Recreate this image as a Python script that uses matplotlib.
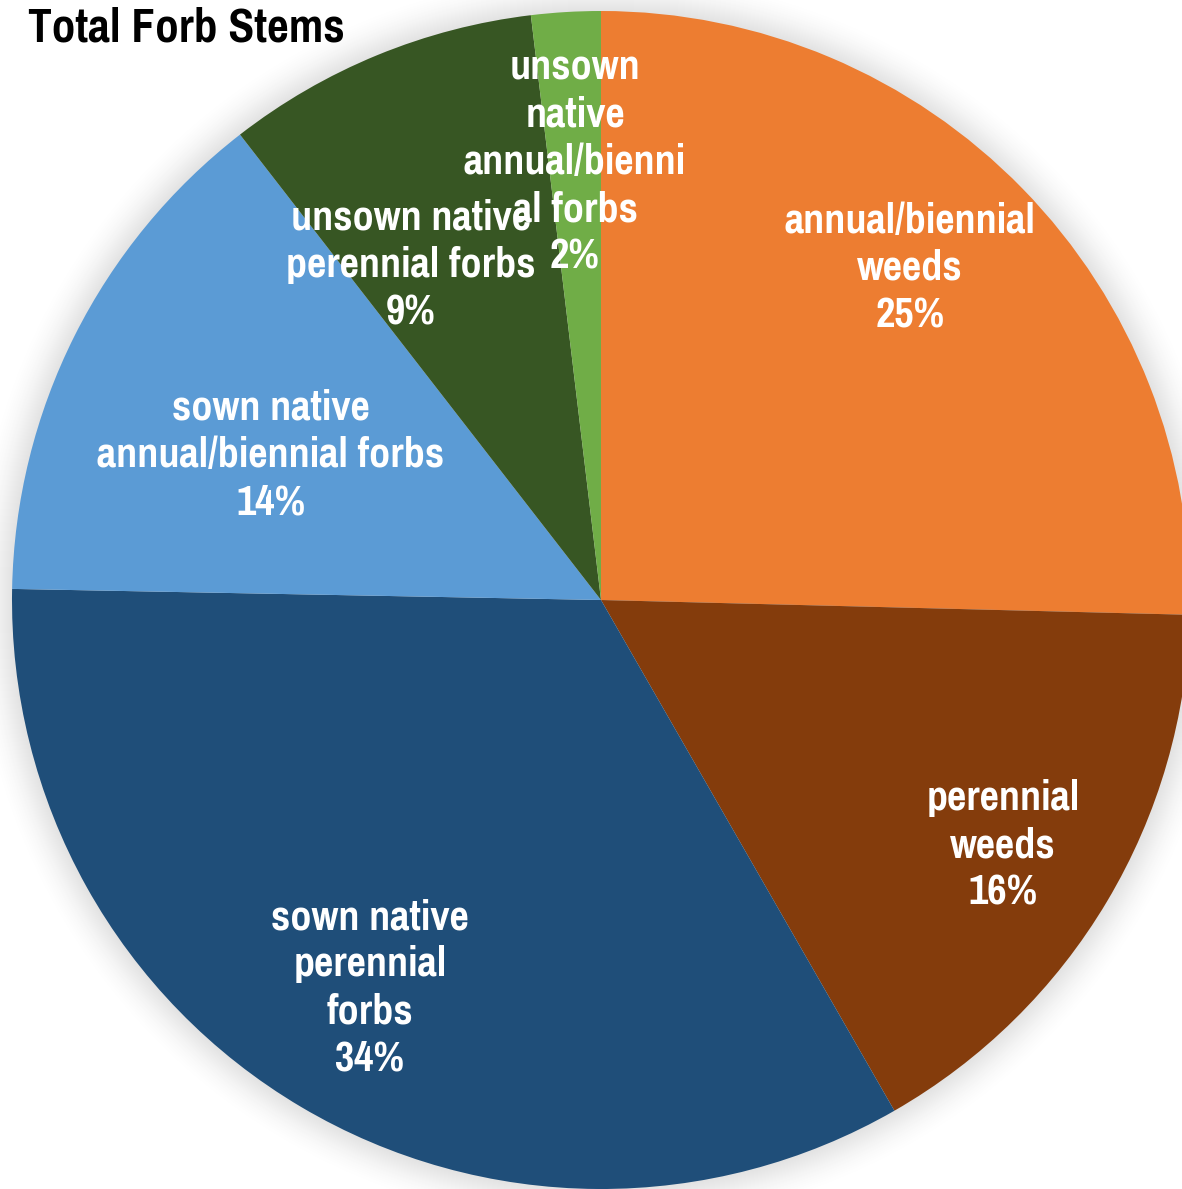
import matplotlib
matplotlib.use("Agg")
import matplotlib.pyplot as plt
from matplotlib.patches import Circle
import numpy as np

# forb stem composition, percent of total stems
groups = ["annual/biennial\nweeds",
          "perennial\nweeds",
          "sown native\nperennial\nforbs",
          "sown native\nannual/biennial forbs",
          "unsown native\nperennial forbs",
          "unsown\nnative\nannual/bienni\nal forbs"]
shares = [25.4, 16.3, 33.6, 14.2, 8.6, 1.9]
colors = ["#ED7D31", "#843C0C", "#1F4E79", "#5B9BD5", "#375623", "#70AD47"]

# label anchor points (pixels, from top-left)
label_xy = [(910, 268), (1003, 845), (370, 988), (271, 455), (411, 265), (575, 162)]

W, H = 1182, 1189
cx, cy, R = 601, H - 600, 589

font = ["Pragati Narrow", "DejaVu Sans"]

fig = plt.figure(figsize=(W / 100, H / 100), dpi=100)
ax = fig.add_axes([0, 0, 1, 1])

# soft grey glow behind the pie
glow = 40
for d in np.arange(glow, 0, -1.0):
    g = 1 - 0.115 * (1 - d / glow) ** 1.6
    ax.add_patch(Circle((cx, cy), R + d, color=(g, g, g), lw=0, zorder=0))

ax.pie(shares, colors=colors, startangle=90, counterclock=False,
       center=(cx, cy), radius=R, wedgeprops=dict(linewidth=0))

for name, v, (x, y) in zip(groups, shares, label_xy):
    ax.text(x, H - y, f"{name}\n{v:.0f}%", ha="center", va="center",
            color="white", fontsize=33, fontweight="bold", family=font,
            linespacing=1.3, zorder=5)

ax.set_xlim(0, W)
ax.set_ylim(0, H)
ax.set_aspect("equal")
ax.axis("off")

fig.text(28 / W, 1 - 28 / H, "Total Forb Stems", ha="left", va="center",
         fontsize=37, fontweight="bold", family=font, color="black")

fig.savefig("out.png", dpi=100)
